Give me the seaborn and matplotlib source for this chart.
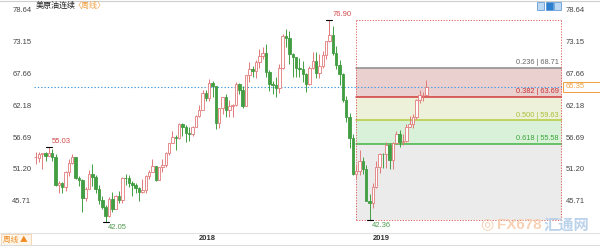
import matplotlib
matplotlib.use("Agg")
import matplotlib.pyplot as plt
from matplotlib.patches import Rectangle
from matplotlib.lines import Line2D
import seaborn as sns
import numpy as np

# ---------------- data (weekly OHLC, week of 2017-01-23 .. 2019-04-22) ----------------
opens = [53.2, 53.1, 53.8, 53.9, 53.4, 54.0, 53.3, 48.5, 48.8, 48.0,
         50.6, 52.2, 53.2, 49.6, 49.3, 46.2, 47.8, 50.3, 49.8, 47.7,
         45.8, 44.7, 43.0, 46.0, 44.2, 46.5, 45.8, 49.7, 49.6, 48.8,
         48.5, 47.9, 47.3, 47.5, 49.9, 50.7, 51.7, 49.3, 51.5, 51.8,
         53.9, 55.6, 56.7, 56.6, 59.0, 58.4, 57.4, 57.3, 58.5, 60.4,
         61.4, 64.3, 63.4, 66.1, 65.5, 59.2, 61.7, 63.6, 61.3, 62.0,
         62.3, 65.9, 64.9, 62.1, 67.4, 68.4, 68.1, 69.7, 70.7, 71.3,
         67.9, 65.8, 65.7, 65.1, 68.6, 74.2, 73.8, 71.0, 70.5, 68.7,
         68.5, 67.6, 65.9, 68.7, 69.8, 67.8, 69.0, 70.8, 73.3, 74.3,
         71.3, 69.1, 67.6, 63.1, 60.2, 56.5, 50.4, 50.9, 52.6, 51.2,
         45.6, 45.3, 48.0, 51.6, 53.8, 53.7, 55.3, 52.7, 55.6, 57.3,
         55.8, 56.1, 58.5, 59.0, 60.1, 63.1, 63.9, 64.0]
highs = [54.1, 54.1, 54.0, 54.1, 55.03, 54.6, 53.7, 49.2, 49.0, 50.9,
         52.9, 53.8, 53.3, 50.0, 49.4, 48.1, 51.0, 52.0, 50.2, 48.4,
         46.5, 44.9, 46.3, 47.3, 46.7, 47.4, 49.8, 50.4, 50.2, 49.1,
         48.7, 48.0, 49.4, 50.2, 51.0, 52.9, 51.7, 51.6, 52.9, 54.2,
         55.7, 57.7, 57.0, 59.1, 59.1, 58.8, 58.5, 58.6, 60.5, 62.2,
         64.8, 64.9, 66.7, 66.3, 65.6, 61.8, 63.7, 64.2, 63.1, 62.4,
         66.2, 66.0, 65.5, 67.5, 69.6, 68.9, 70.0, 71.9, 72.3, 72.8,
         68.2, 66.3, 67.1, 69.3, 74.5, 75.3, 75.0, 71.3, 70.6, 70.4,
         69.8, 67.8, 69.0, 71.4, 71.4, 71.0, 71.5, 73.3, 76.90, 75.9,
         72.5, 70.0, 67.8, 63.8, 60.9, 57.3, 52.0, 54.5, 53.3, 51.9,
         46.8, 48.8, 52.6, 54.0, 54.0, 55.8, 55.6, 55.8, 57.8, 57.9,
         57.3, 58.9, 60.4, 60.7, 63.3, 64.8, 64.4, 66.6]
lows = [52.0, 52.4, 51.2, 52.5, 53.4, 52.6, 48.3, 47.1, 47.1, 47.4,
        49.9, 52.1, 49.4, 48.2, 43.8, 45.6, 47.7, 48.2, 47.0, 45.2,
        44.2, 42.05, 42.9, 43.8, 44.2, 45.4, 45.4, 48.4, 48.1, 46.5,
        47.1, 45.6, 47.0, 47.1, 49.4, 50.6, 49.1, 49.3, 50.7, 51.5,
        53.6, 55.6, 54.5, 56.4, 56.8, 55.8, 56.1, 56.9, 58.4, 60.1,
        61.3, 62.9, 63.0, 63.7, 58.1, 58.3, 60.7, 60.1, 60.1, 60.2,
        62.0, 64.2, 61.8, 62.0, 66.2, 67.0, 66.9, 68.6, 70.2, 67.0,
        64.7, 64.2, 63.6, 64.3, 68.5, 72.3, 69.4, 67.0, 67.1, 67.0,
        66.2, 64.4, 65.7, 68.4, 66.9, 66.9, 68.6, 70.2, 73.1, 70.8,
        68.5, 65.7, 62.7, 59.3, 54.8, 50.2, 49.4, 50.1, 50.4, 45.8,
        42.36, 44.4, 47.9, 50.5, 51.3, 51.3, 51.2, 51.2, 55.5, 55.0,
        55.4, 55.9, 58.4, 58.2, 59.9, 62.5, 63.0, 63.8]
closes = [53.2, 53.8, 53.9, 53.4, 54.0, 53.3, 48.5, 48.8, 48.0, 50.6,
          52.2, 53.2, 49.6, 49.3, 46.2, 47.8, 50.3, 49.8, 47.7, 45.8,
          44.7, 43.0, 46.0, 44.2, 46.5, 45.8, 49.7, 49.6, 48.8, 48.5,
          47.9, 47.3, 47.5, 49.9, 50.7, 51.7, 49.3, 51.5, 51.8, 53.9,
          55.6, 56.7, 56.6, 59.0, 58.4, 57.4, 57.3, 58.5, 60.4, 61.4,
          64.3, 63.4, 66.1, 65.5, 59.2, 61.7, 63.6, 61.3, 62.0, 62.3,
          65.9, 64.9, 62.1, 67.4, 68.4, 68.1, 69.7, 70.7, 71.3, 67.9,
          65.8, 65.7, 65.1, 68.6, 74.2, 73.8, 71.0, 70.5, 68.7, 68.5,
          67.6, 65.9, 68.7, 69.8, 67.8, 69.0, 70.8, 73.3, 74.3, 71.3,
          69.1, 67.6, 63.1, 60.2, 56.5, 50.4, 50.9, 52.6, 51.2, 45.6,
          45.3, 48.0, 51.6, 53.8, 53.7, 55.3, 52.7, 55.6, 57.3, 55.8,
          56.1, 58.5, 59.0, 60.1, 63.1, 63.9, 64.0, 65.35]

year_tick_idx = [49, 101]
year_tick_labels = ["2018", "2019"]
y_ticks = [78.64, 73.15, 67.66, 62.18, 56.69, 51.20, 45.71]
y_tick_labels = ["78.64", "73.15", "67.66", "62.18", "56.69", "51.20", "45.71"]

fib_high, fib_low = 76.90, 42.36
fib_ratios = ["0.236", "0.382", "0.500", "0.618"]
fib_levels = [68.71, 63.69, 59.63, 55.58]
last_price = 65.35

extremes = [(4, 55.03, "high"), (21, 42.05, "low"), (88, 76.90, "high"), (100, 42.36, "low")]

# ---------------- style ----------------
sns.set_style("white")
plt.rcParams["font.family"] = ["Liberation Sans", "Noto Sans CJK SC", "DejaVu Sans"]

W, H = 600, 246
fig = plt.figure(figsize=(6.0, 2.46), dpi=100)
fig.patch.set_facecolor("white")

ax_l, ax_r, ax_t, ax_b = 33.5, 562.0, 2.0, 229.0
ax = fig.add_axes([ax_l / W, 1 - ax_b / H, (ax_r - ax_l) / W, (ax_b - ax_t) / H])
ax.set_facecolor("white")

x0, x1 = -0.6, 157.6
y0, y1 = 40.83, 80.02
ax.set_xlim(x0, x1)
ax.set_ylim(y0, y1)

n = len(closes)
idx = np.arange(n)
o = np.array(opens); h = np.array(highs); l = np.array(lows); c = np.array(closes)
up = c >= o
up_col = "#e27a7a"
dn_col = "#429e42"

# ---------------- fibonacci zones ----------------
fib_x0 = 95.9
fill_cols = ["#ebd0d0", "#eef1d9", "#d9f0d9", "#ebebeb"]
line_cols = ["#8c8c8c", "#d23b3b", "#b3cc3c", "#45b545"]
text_cols = ["#666666", "#c83232", "#a8c038", "#3aa83a"]
bounds = fib_levels + [fib_low]
for k in range(4):
    ax.fill_between([fib_x0, x1], bounds[k + 1], bounds[k], color=fill_cols[k], lw=0, zorder=0)
for k, lev in enumerate(fib_levels):
    ax.plot([fib_x0, x1], [lev, lev], color=line_cols[k], lw=1.1, zorder=1)
    ax.text(x1 - 1.0, lev + 0.25, f"{fib_ratios[k]} | {lev:.2f}", color=text_cols[k],
            fontsize=5.3, ha="right", va="bottom", zorder=5)

dot = (0, (1.2, 1.6))
box_col = "#e05a5a"
ax.plot([fib_x0, x1 - 0.3], [fib_high, fib_high], color=box_col, lw=0.7, ls=dot, zorder=2)
ax.plot([fib_x0, x1 - 0.3], [fib_low, fib_low], color=box_col, lw=0.7, ls=dot, zorder=2)
ax.plot([fib_x0, fib_x0], [fib_low, fib_high], color=box_col, lw=0.7, ls=dot, zorder=2)
ax.plot([x1 - 0.3, x1 - 0.3], [fib_low, fib_high], color=box_col, lw=0.7, ls=dot, zorder=2)

# current price line
ax.axhline(last_price, color="#3f98e0", lw=0.8, ls=(0, (1.2, 1.8)), zorder=2)

# ---------------- candles ----------------
wick_cols = [up_col if u else dn_col for u in up]
ax.vlines(idx, l, h, colors=wick_cols, lw=0.7, zorder=3)
bottoms = np.minimum(o, c)
heights = np.maximum(np.abs(c - o), 0.08)
ax.bar(idx[up], heights[up], bottom=bottoms[up], width=0.74, facecolor="white",
       edgecolor=up_col, lw=0.6, zorder=4)
ax.bar(idx[~up], heights[~up], bottom=bottoms[~up], width=0.74, facecolor=dn_col,
       edgecolor=dn_col, lw=0.6, zorder=4)

# extreme markers
for i, p, kind in extremes:
    ax.plot([i - 0.9, i + 0.9], [p, p], color="black", lw=0.8, zorder=5)
    if kind == "high":
        ax.text(i + 0.8, p + 0.35, f"{p:.2f}", color="#d24a4a", fontsize=5.5,
                ha="left", va="bottom", zorder=6)
    else:
        ax.text(i + 0.6, p - 0.35, f"{p:.2f}", color="#4f9a4f", fontsize=5.5,
                ha="left", va="top", zorder=6)

# ---------------- axes / ticks ----------------
for s in ax.spines.values():
    s.set_visible(False)
ax.set_yticks(y_ticks)
ax.set_yticklabels(y_tick_labels)
ax.tick_params(axis="y", length=0, pad=1.5, labelsize=5.5, labelcolor="#444444")
ax.set_xticks(year_tick_idx)
ax.set_xticklabels(year_tick_labels, ha="left", fontweight="bold")
ax.tick_params(axis="x", length=0, pad=4.5, labelsize=5.5, labelcolor="#333333")

axr = ax.twinx()
axr.set_ylim(y0, y1)
axr.set_yticks(y_ticks)
axr.set_yticklabels(y_tick_labels)
axr.tick_params(axis="y", length=0, pad=2.5, labelsize=5.5, labelcolor="#444444")
for s in axr.spines.values():
    s.set_visible(False)

# current price tag on right axis
yp = ax_t + (y1 - last_price) / (y1 - y0) * (ax_b - ax_t)
fig.patches.append(Rectangle((563 / W, 1 - (yp + 5) / H), 37 / W, 10 / H, transform=fig.transFigure,
                             facecolor="white", edgecolor="#f0a040", lw=0.7))
fig.text(566 / W, 1 - yp / H, f"{last_price:.2f}", color="#f0a040", fontsize=5.5, va="center", ha="left")

# ---------------- title / decorations ----------------
fig.text(36 / W, 1 - 6 / H, "美原油连续", fontsize=5.8, color="#222222", va="center", ha="left")
fig.text(73 / W, 1 - 6 / H, "〈周线〉", fontsize=5.8, color="#f0a040", va="center", ha="left")

fig.add_artist(Line2D([0, 1], [1 - 0.8 / H, 1 - 0.8 / H], color="#cfcfcf", lw=0.8, transform=fig.transFigure))
fig.add_artist(Line2D([0, 1], [1 - 232.5 / H, 1 - 232.5 / H], color="#e2e2e2", lw=0.8, transform=fig.transFigure))
fig.add_artist(Line2D([0, 1], [1 / H, 1 / H], color="#dddddd", lw=0.8, transform=fig.transFigure))

# icons top-right
for k, fc in enumerate(["#bcd8f2", "#2f7fcf", "#bcd8f2"]):
    fig.patches.append(Rectangle(((537 + k * 8.5) / W, 1 - 10 / H), 7 / W, 7.5 / H, transform=fig.transFigure,
                                 facecolor=fc, edgecolor="#4a8fd4", lw=0.5))

# bottom-left period button
fig.patches.append(Rectangle((1 / W, 1 / H), 30 / W, 11 / H, transform=fig.transFigure,
                             facecolor="#fff6ea", edgecolor="#f3c99a", lw=0.5))
fig.text(3 / W, 6.5 / H, "周线 ▲", fontsize=5.5, color="#f08a20", va="center", ha="left",
         family=["Noto Sans CJK SC", "DejaVu Sans"])

# watermark
fig.text(487 / W, 1 - 225 / H, "◎", fontsize=11, color="#f6c9a6", va="center", ha="center",
         family=["DejaVu Sans"], alpha=0.9)
fig.text(497 / W, 1 - 225 / H, "FX678", fontsize=11, color="#f7cdae", va="center", ha="left",
         fontweight="bold", alpha=0.9)
fig.text(544 / W, 1 - 225 / H, "汇通网", fontsize=11, color="#b3cde8", va="center", ha="left",
         family=["Noto Sans CJK SC", "DejaVu Sans"], fontweight="bold", alpha=0.9)

fig.savefig("out.png", dpi=100)
